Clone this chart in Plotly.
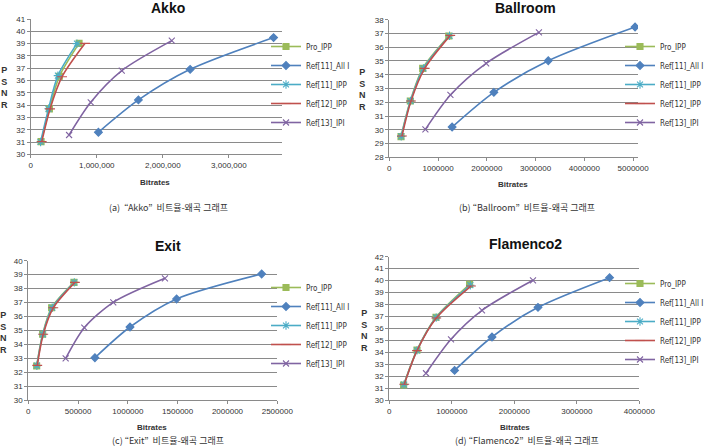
import plotly.graph_objects as go

W, H = 704, 447
series_names = ["Pro_IPP", "Ref[11]_All I", "Ref[11]_IPP", "Ref[12]_IPP", "Ref[13]_IPI"]
titles = ["Akko", "Ballroom", "Exit", "Flamenco2"]
captions = ["(a)  \u201cAkko\u201d  \ube44\ud2b8\uc728-\uc65c\uace1 \uadf8\ub798\ud504",
            "(b) \u201cBallroom\u201d  \ube44\ud2b8\uc728-\uc65c\uace1 \uadf8\ub798\ud504",
            "(c) \u201cExit\u201d  \ube44\ud2b8\uc728-\uc65c\uace1 \uadf8\ub798\ud504",
            "(d) \u201cFlamenco2\u201d  \ube44\ud2b8\uc728-\uc65c\uace1 \uadf8\ub798\ud504"]

# Akko
akko_pro_x = [157000, 283000, 434000, 732000]
akko_pro_y = [31.03, 33.69, 36.34, 39.02]
akko_all_x = [1025000, 1631000, 2414000, 3677000]
akko_all_y = [31.79, 34.42, 36.91, 39.49]
akko_r11_x = [150000, 270000, 412000, 700000]
akko_r11_y = [31.0, 33.7, 36.4, 39.0]
akko_r12_x = [167000, 293000, 475000, 823000]
akko_r12_y = [31.03, 33.69, 36.31, 39.02]
akko_r13_x = [581000, 909000, 1379000, 2136000]
akko_r13_y = [31.57, 34.23, 36.80, 39.24]

# Ballroom
ball_pro_x = [240000, 430000, 685000, 1220000]
ball_pro_y = [29.50, 32.09, 34.46, 36.81]
ball_all_x = [1288000, 2144000, 3260000, 5040000]
ball_all_y = [30.20, 32.72, 35.02, 37.47]
ball_r11_x = [245000, 435000, 700000, 1235000]
ball_r11_y = [29.52, 32.09, 34.46, 36.83]
ball_r12_x = [260000, 445000, 726000, 1250000]
ball_r12_y = [29.55, 32.09, 34.46, 36.86]
ball_r13_x = [740000, 1253000, 1986000, 3068000]
ball_r13_y = [30.03, 32.53, 34.83, 37.08]

# Exit
exit_pro_x = [84000, 144000, 234000, 458000]
exit_pro_y = [32.46, 34.73, 36.63, 38.45]
exit_all_x = [669000, 1021000, 1489000, 2343000]
exit_all_y = [33.05, 35.25, 37.26, 39.05]
exit_r11_x = [86000, 146000, 240000, 462000]
exit_r11_y = [32.48, 34.73, 36.63, 38.45]
exit_r12_x = [90000, 150000, 251000, 468000]
exit_r12_y = [32.50, 34.73, 36.63, 38.45]
exit_r13_x = [375000, 562000, 853000, 1372000]
exit_r13_y = [33.00, 35.20, 37.02, 38.74]

# Flamenco2
flam_pro_x = [229000, 443000, 747000, 1285000]
flam_pro_y = [31.28, 34.20, 36.94, 39.69]
flam_all_x = [1045000, 1643000, 2379000, 3525000]
flam_all_y = [32.50, 35.29, 37.77, 40.25]
flam_r11_x = [235000, 443000, 750000, 1296000]
flam_r11_y = [31.31, 34.17, 36.91, 39.62]
flam_r12_x = [240000, 443000, 752000, 1307000]
flam_r12_y = [31.34, 34.15, 36.88, 39.55]
flam_r13_x = [587000, 987000, 1483000, 2299000]
flam_r13_y = [32.26, 35.10, 37.52, 40.03]

panels = [
    [(akko_pro_x, akko_pro_y), (akko_all_x, akko_all_y), (akko_r11_x, akko_r11_y), (akko_r12_x, akko_r12_y), (akko_r13_x, akko_r13_y)],
    [(ball_pro_x, ball_pro_y), (ball_all_x, ball_all_y), (ball_r11_x, ball_r11_y), (ball_r12_x, ball_r12_y), (ball_r13_x, ball_r13_y)],
    [(exit_pro_x, exit_pro_y), (exit_all_x, exit_all_y), (exit_r11_x, exit_r11_y), (exit_r12_x, exit_r12_y), (exit_r13_x, exit_r13_y)],
    [(flam_pro_x, flam_pro_y), (flam_all_x, flam_all_y), (flam_r11_x, flam_r11_y), (flam_r12_x, flam_r12_y), (flam_r13_x, flam_r13_y)],
]

colors = ["#9BBB59", "#4F81BD", "#4BACC6", "#C0504D", "#8064A2"]
symbols = ["square", "diamond", "asterisk-open", "line-ew-open", "x-thin-open"]
msizes = [6, 6, 7, 7, 6]

# pixel boxes: x0, x1, ytop, ybottom
boxes = [(30.7, 281.7, 19, 154.3), (389.3, 638, 19.7, 157.3),
         (28.3, 277.3, 260.7, 400.3), (389.3, 639.3, 256.7, 400.3)]
xranges = [[0, 3.8e6], [0, 5.1e6], [0, 2.5e6], [0, 4.0e6]]
xdticks = [1e6, 1e6, 5e5, 1e6]
xfmts = [",d", "d", "d", "d"]
yranges = [[30, 41], [28, 38], [30, 40], [30, 42]]
legend_pos = [(266, 32), (620, 32), (266, 273), (620, 269)]
title_pos = [(168, 8), (525, 8), (168, 246), (525, 244)]
xtitle_pos = [(155, 183), (513, 184), (152, 427), (515, 427)]
cap_pos = [(168, 208), (527, 208), (168, 440), (527, 440)]
psnr_pos = [(4, 63), (362, 65), (3, 308), (364, 306)]

FONT = "Liberation Sans, Arial, sans-serif"
LFONT = "Liberation Sans Narrow, DejaVu Sans Condensed, Liberation Sans, sans-serif"
fig = go.Figure()
layout = dict(width=W, height=H, margin=dict(l=0, r=0, t=0, b=0, autoexpand=False),
              paper_bgcolor="white", plot_bgcolor="white", showlegend=True,
              font=dict(family=FONT, size=8, color="#333333"))
annotations = []

for i in range(4):
    sfx = "" if i == 0 else str(i + 1)
    x0, x1, yt, yb = boxes[i]
    layout["xaxis" + sfx] = dict(domain=[x0 / W, x1 / W], range=xranges[i], dtick=xdticks[i],
                                 tick0=0, tickformat=xfmts[i], anchor="y" + sfx, automargin=False,
                                 showgrid=False, showline=True, linecolor="#8a8a8a", linewidth=1,
                                 ticks="outside", ticklen=3, tickcolor="#8a8a8a",
                                 tickfont=dict(size=8, color="#333333"), zeroline=False)
    layout["yaxis" + sfx] = dict(domain=[1 - yb / H, 1 - yt / H], range=yranges[i], dtick=1,
                                 anchor="x" + sfx, showgrid=True, gridcolor="#8a8a8a", gridwidth=1,
                                 showline=True, linecolor="#8a8a8a", linewidth=1, automargin=False,
                                 ticks="outside", ticklen=3, tickcolor="#8a8a8a",
                                 tickfont=dict(size=8, color="#333333"), zeroline=False)
    lname = "legend" if i == 0 else "legend" + str(i + 1)
    lx, ly = legend_pos[i]
    layout[lname] = dict(x=lx / W, y=1 - ly / H, xanchor="left", yanchor="top",
                         bgcolor="rgba(0,0,0,0)", font=dict(size=8, color="#333333", family=LFONT),
                         itemwidth=30, tracegroupgap=0)
    for k in range(5):
        xs, ys = panels[i][k]
        fig.add_trace(go.Scatter(x=xs, y=ys, name=series_names[k], mode="lines+markers",
                                 line=dict(color=colors[k], width=1.6, shape="spline", smoothing=0.8),
                                 marker=dict(symbol=symbols[k], size=msizes[k], color=colors[k],
                                             line=dict(color=colors[k], width=1.1)),
                                 xaxis="x" + sfx, yaxis="y" + sfx, legend=lname))
    tx, ty = title_pos[i]
    annotations.append(dict(text="<b>" + titles[i] + "</b>", x=tx / W, y=1 - ty / H, xref="paper", yref="paper",
                            showarrow=False, font=dict(size=14, color="#111111"), xanchor="center", yanchor="middle"))
    bx, by = xtitle_pos[i]
    annotations.append(dict(text="<b>Bitrates</b>", x=bx / W, y=1 - by / H, xref="paper", yref="paper",
                            showarrow=False, font=dict(size=8, color="#333333"), xanchor="center", yanchor="middle"))
    cx, cy = cap_pos[i]
    annotations.append(dict(text=captions[i], x=cx / W, y=1 - cy / H, xref="paper", yref="paper",
                            showarrow=False, font=dict(size=9, color="#333333", family="Noto Sans CJK KR, " + FONT),
                            xanchor="center", yanchor="middle"))
    px, py = psnr_pos[i]
    annotations.append(dict(text="<b>P<br>S<br>N<br>R</b>", x=px / W, y=1 - py / H, xref="paper", yref="paper",
                            showarrow=False, font=dict(size=9, color="#333333"), xanchor="center", yanchor="top",
                            align="center"))

layout["annotations"] = annotations
fig.update_layout(**layout)
fig.write_html("out.html")
